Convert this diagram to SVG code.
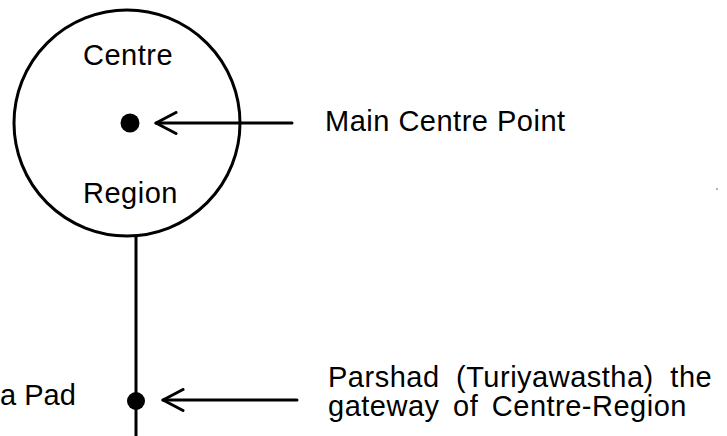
<svg xmlns="http://www.w3.org/2000/svg" width="727" height="436" viewBox="0 0 727 436">
<style>
.t{font-family:"Liberation Sans",Arial,sans-serif;font-size:29px;fill:#000;letter-spacing:0.5px}
.ln{stroke:#000;stroke-width:3;fill:none;stroke-linecap:round}
</style>
<defs>
<marker id="ah" viewBox="0 0 24 24" refX="22" refY="12" markerWidth="24" markerHeight="24" markerUnits="userSpaceOnUse" orient="auto">
<path d="M2,1.5 L22,12 L2,22.5" fill="none" stroke="#000" stroke-width="3" stroke-linecap="round" stroke-linejoin="round"/>
</marker>
</defs>
<rect width="727" height="436" fill="#fff"/>
<g id="centre-region">
<circle cx="127" cy="123" r="113" class="ln"/>
<text class="t" x="83" y="65">Centre</text>
<text class="t" x="83" y="203">Region</text>
</g>
<g id="main-centre-point">
<circle cx="130" cy="123" r="9.5" fill="#000"/>
<text class="t" x="325" y="131">Main Centre Point</text>
</g>
<g id="parshad">
<circle cx="136" cy="401" r="9" fill="#000"/>
<text class="t" x="328" y="387" word-spacing="8">Parshad (Turiyawastha) the</text>
<text class="t" x="328" y="416" word-spacing="5">gateway of Centre-Region</text>
</g>
<g id="pad">
<text class="t" x="0" y="405" style="letter-spacing:0">a Pad</text>
</g>
<g id="connectors">
<line class="ln" x1="136" y1="237" x2="136" y2="436"/>
<line class="ln" x1="292" y1="123" x2="156" y2="123" marker-end="url(#ah)"/>
<line class="ln" x1="297" y1="400" x2="163" y2="400" marker-end="url(#ah)"/>
</g>
<circle cx="717" cy="189" r="0.8" fill="#555"/>
</svg>
